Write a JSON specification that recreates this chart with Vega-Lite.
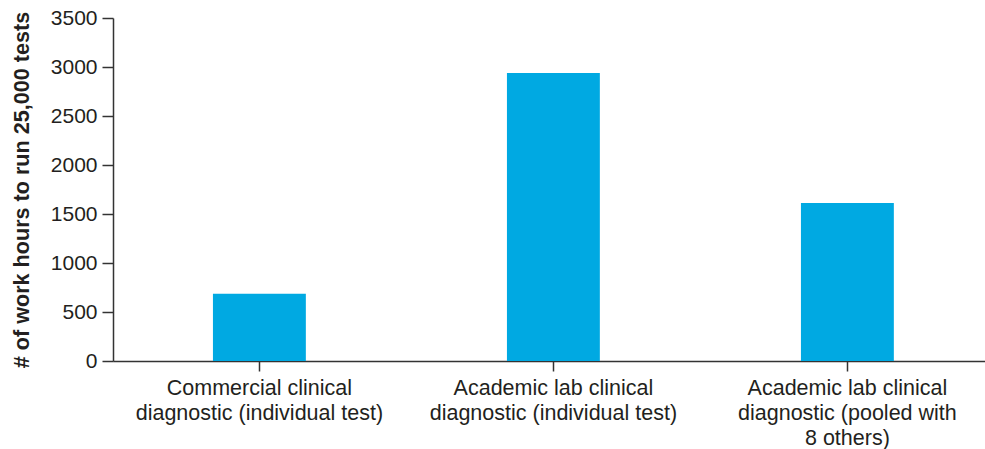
{
  "$schema": "https://vega.github.io/schema/vega-lite/v6.json",
  "width": 872,
  "height": 343,
  "autosize": {"type": "none"},
  "padding": {"left": 113, "top": 18, "right": 0, "bottom": 88},
  "background": "white",
  "config": {"view": {"stroke": null}, "font": "Liberation Sans"},
  "data": {
    "values": [
      {"category": "Commercial clinical|diagnostic (individual test)", "hours": 685},
      {"category": "Academic lab clinical|diagnostic (individual test)", "hours": 2940},
      {"category": "Academic lab clinical|diagnostic (pooled with|8 others)", "hours": 1612}
    ]
  },
  "mark": {"type": "bar", "color": "#00A9E2"},
  "encoding": {
    "x": {
      "field": "category",
      "type": "nominal",
      "sort": null,
      "scale": {"paddingInner": 0.684, "paddingOuter": 0.325, "align": 0.523},
      "axis": {
        "title": null,
        "labelAngle": 0,
        "labelExpr": "split(datum.value, '|')",
        "labelFontSize": 21.5,
        "labelColor": "#231F20",
        "labelLineHeight": 25,
        "labelBaseline": "top",
        "labelLimit": 0,
        "tickSize": 10,
        "labelPadding": 6,
        "domainColor": "#333333",
        "tickColor": "#333333",
        "domainWidth": 1.5,
        "tickWidth": 1.5
      }
    },
    "y": {
      "field": "hours",
      "type": "quantitative",
      "scale": {"domain": [0, 3500]},
      "axis": {
        "values": [0, 500, 1000, 1500, 2000, 2500, 3000, 3500],
        "format": "d",
        "grid": false,
        "title": "# of work hours to run 25,000 tests",
        "titleFontSize": 21.6,
        "titleFontWeight": "bold",
        "titleColor": "#231F20",
        "titleX": -85,
        "titleY": 171.5,
        "titleAngle": -90,
        "titleAlign": "center",
        "titleBaseline": "alphabetic",
        "labelFontSize": 21,
        "labelColor": "#231F20",
        "labelPadding": 5,
        "tickSize": 11,
        "domainColor": "#333333",
        "tickColor": "#333333",
        "domainWidth": 1.5,
        "tickWidth": 1.5
      }
    }
  }
}
